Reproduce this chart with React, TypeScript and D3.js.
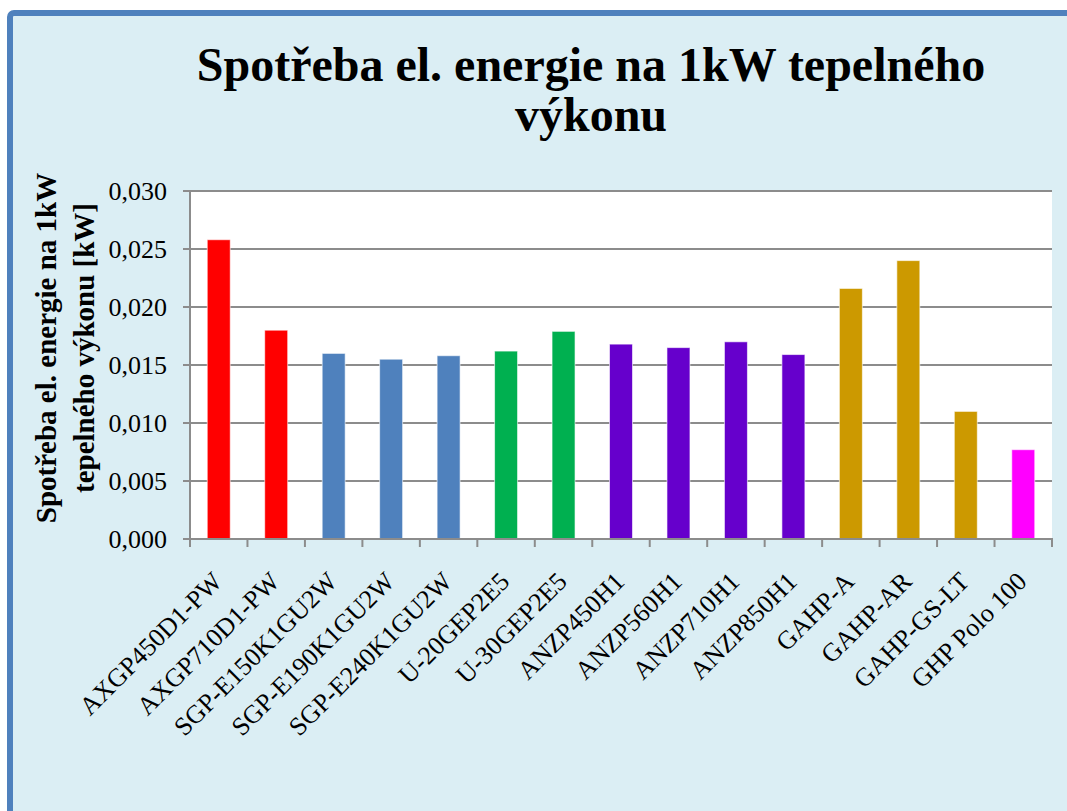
import React, { useEffect, useRef } from "react";
import * as d3 from "d3";

// unit names, consumption per 1 kW of heat output, bar colours
const units = [
  "AXGP450D1-PW", "AXGP710D1-PW", "SGP-E150K1GU2W", "SGP-E190K1GU2W",
  "SGP-E240K1GU2W", "U-20GEP2E5", "U-30GEP2E5", "ANZP450H1", "ANZP560H1",
  "ANZP710H1", "ANZP850H1", "GAHP-A", "GAHP-AR", "GAHP-GS-LT", "GHP Polo 100",
];
const values = [
  0.0258, 0.0180, 0.0160, 0.0155, 0.0158, 0.0162, 0.0179, 0.0168, 0.0165,
  0.0170, 0.0159, 0.0216, 0.0240, 0.0110, 0.0077,
];
const colors = [
  "#ff0000", "#ff0000", "#4f81bd", "#4f81bd", "#4f81bd", "#00b050", "#00b050",
  "#6600cc", "#6600cc", "#6600cc", "#6600cc", "#cc9900", "#cc9900", "#cc9900", "#ff00ff",
];
const yTicks = [0, 0.005, 0.01, 0.015, 0.02, 0.025, 0.03];
const titleLines = ["Spotřeba el. energie na 1kW tepelného", "výkonu"];
const yTitleLines = ["Spotřeba el. energie na 1kW", "tepelného výkonu [kW]"];

const W = 1067, H = 811;
const plot = { left: 190, right: 1052, top: 191, bottom: 539 };
const serif = "'Liberation Serif', 'Times New Roman', serif";

export default function App() {
  const ref = useRef<SVGSVGElement>(null);

  useEffect(() => {
    const svg = d3.select(ref.current);
    svg.selectAll("*").remove();

    svg.append("rect").attr("width", W).attr("height", H).attr("fill", "#ffffff");
    svg.append("rect")
      .attr("x", 10).attr("y", 13).attr("width", 1200).attr("height", 1000).attr("rx", 4)
      .attr("fill", "#dbeef4").attr("stroke", "#4f81bd").attr("stroke-width", 6);

    // title
    svg.append("g").selectAll("text").data(titleLines).join("text")
      .attr("x", 591).attr("y", (d, i) => 81 + i * 50)
      .attr("text-anchor", "middle")
      .style("font-family", serif).style("font-weight", "bold").style("font-size", "48px")
      .text(d => d);

    const x = d3.scaleBand().domain(units).range([plot.left, plot.right])
      .paddingInner(0.6).paddingOuter(0.3);
    const y = d3.scaleLinear().domain([0, 0.03]).range([plot.bottom, plot.top]);

    svg.append("rect")
      .attr("x", plot.left).attr("y", plot.top)
      .attr("width", plot.right - plot.left).attr("height", plot.bottom - plot.top)
      .attr("fill", "#ffffff");

    // gridlines
    svg.append("g").selectAll("line").data(yTicks).join("line")
      .attr("x1", plot.left - 7).attr("x2", plot.right)
      .attr("y1", d => y(d)).attr("y2", d => y(d))
      .attr("stroke", "#8c8c8c").attr("stroke-width", 2);

    // bars
    svg.append("g").selectAll("rect").data(values).join("rect")
      .attr("x", (d, i) => x(units[i])!)
      .attr("y", d => y(d))
      .attr("width", x.bandwidth())
      .attr("height", d => y(0) - y(d))
      .attr("fill", (d, i) => colors[i])
      .attr("stroke", "#ffffff").attr("stroke-opacity", 0.6).attr("stroke-width", 1);

    // axes lines
    svg.append("line")
      .attr("x1", plot.left).attr("x2", plot.left).attr("y1", plot.top).attr("y2", plot.bottom)
      .attr("stroke", "#8c8c8c").attr("stroke-width", 2);
    svg.append("line")
      .attr("x1", plot.left - 7).attr("x2", plot.right + 1).attr("y1", plot.bottom).attr("y2", plot.bottom)
      .attr("stroke", "#8c8c8c").attr("stroke-width", 2);
    const step = x.step();
    svg.append("g").selectAll("line").data(d3.range(units.length + 1)).join("line")
      .attr("x1", i => plot.left + i * step).attr("x2", i => plot.left + i * step)
      .attr("y1", plot.bottom).attr("y2", plot.bottom + 8)
      .attr("stroke", "#8c8c8c").attr("stroke-width", 2);

    // y tick labels
    const fmt = (v: number) => v.toFixed(3).replace(".", ",");
    svg.append("g").selectAll("text").data(yTicks).join("text")
      .attr("x", 167).attr("y", d => y(d)).attr("dy", "0.35em")
      .attr("text-anchor", "end")
      .style("font-family", serif).style("font-size", "26px")
      .text(d => fmt(d));

    // x labels
    svg.append("g").selectAll("text").data(units).join("text")
      .attr("transform", d => `translate(${x(d)! + x.bandwidth() / 2 + 5},${plot.bottom + 44}) rotate(-45)`)
      .attr("text-anchor", "end")
      .style("font-family", serif).style("font-size", "26px")
      .text(d => d);

    // y title
    svg.append("g").selectAll("text").data(yTitleLines).join("text")
      .attr("transform", (d, i) => `translate(${56 + i * 38},348) rotate(-90)`)
      .attr("text-anchor", "middle")
      .style("font-family", serif).style("font-weight", "bold").style("font-size", "29px")
      .text(d => d);
  }, []);

  return (
    <div style={{ position: "absolute", left: 0, top: 0 }}>
      <svg ref={ref} width={W} height={H} style={{ display: "block" }} />
    </div>
  );
}
